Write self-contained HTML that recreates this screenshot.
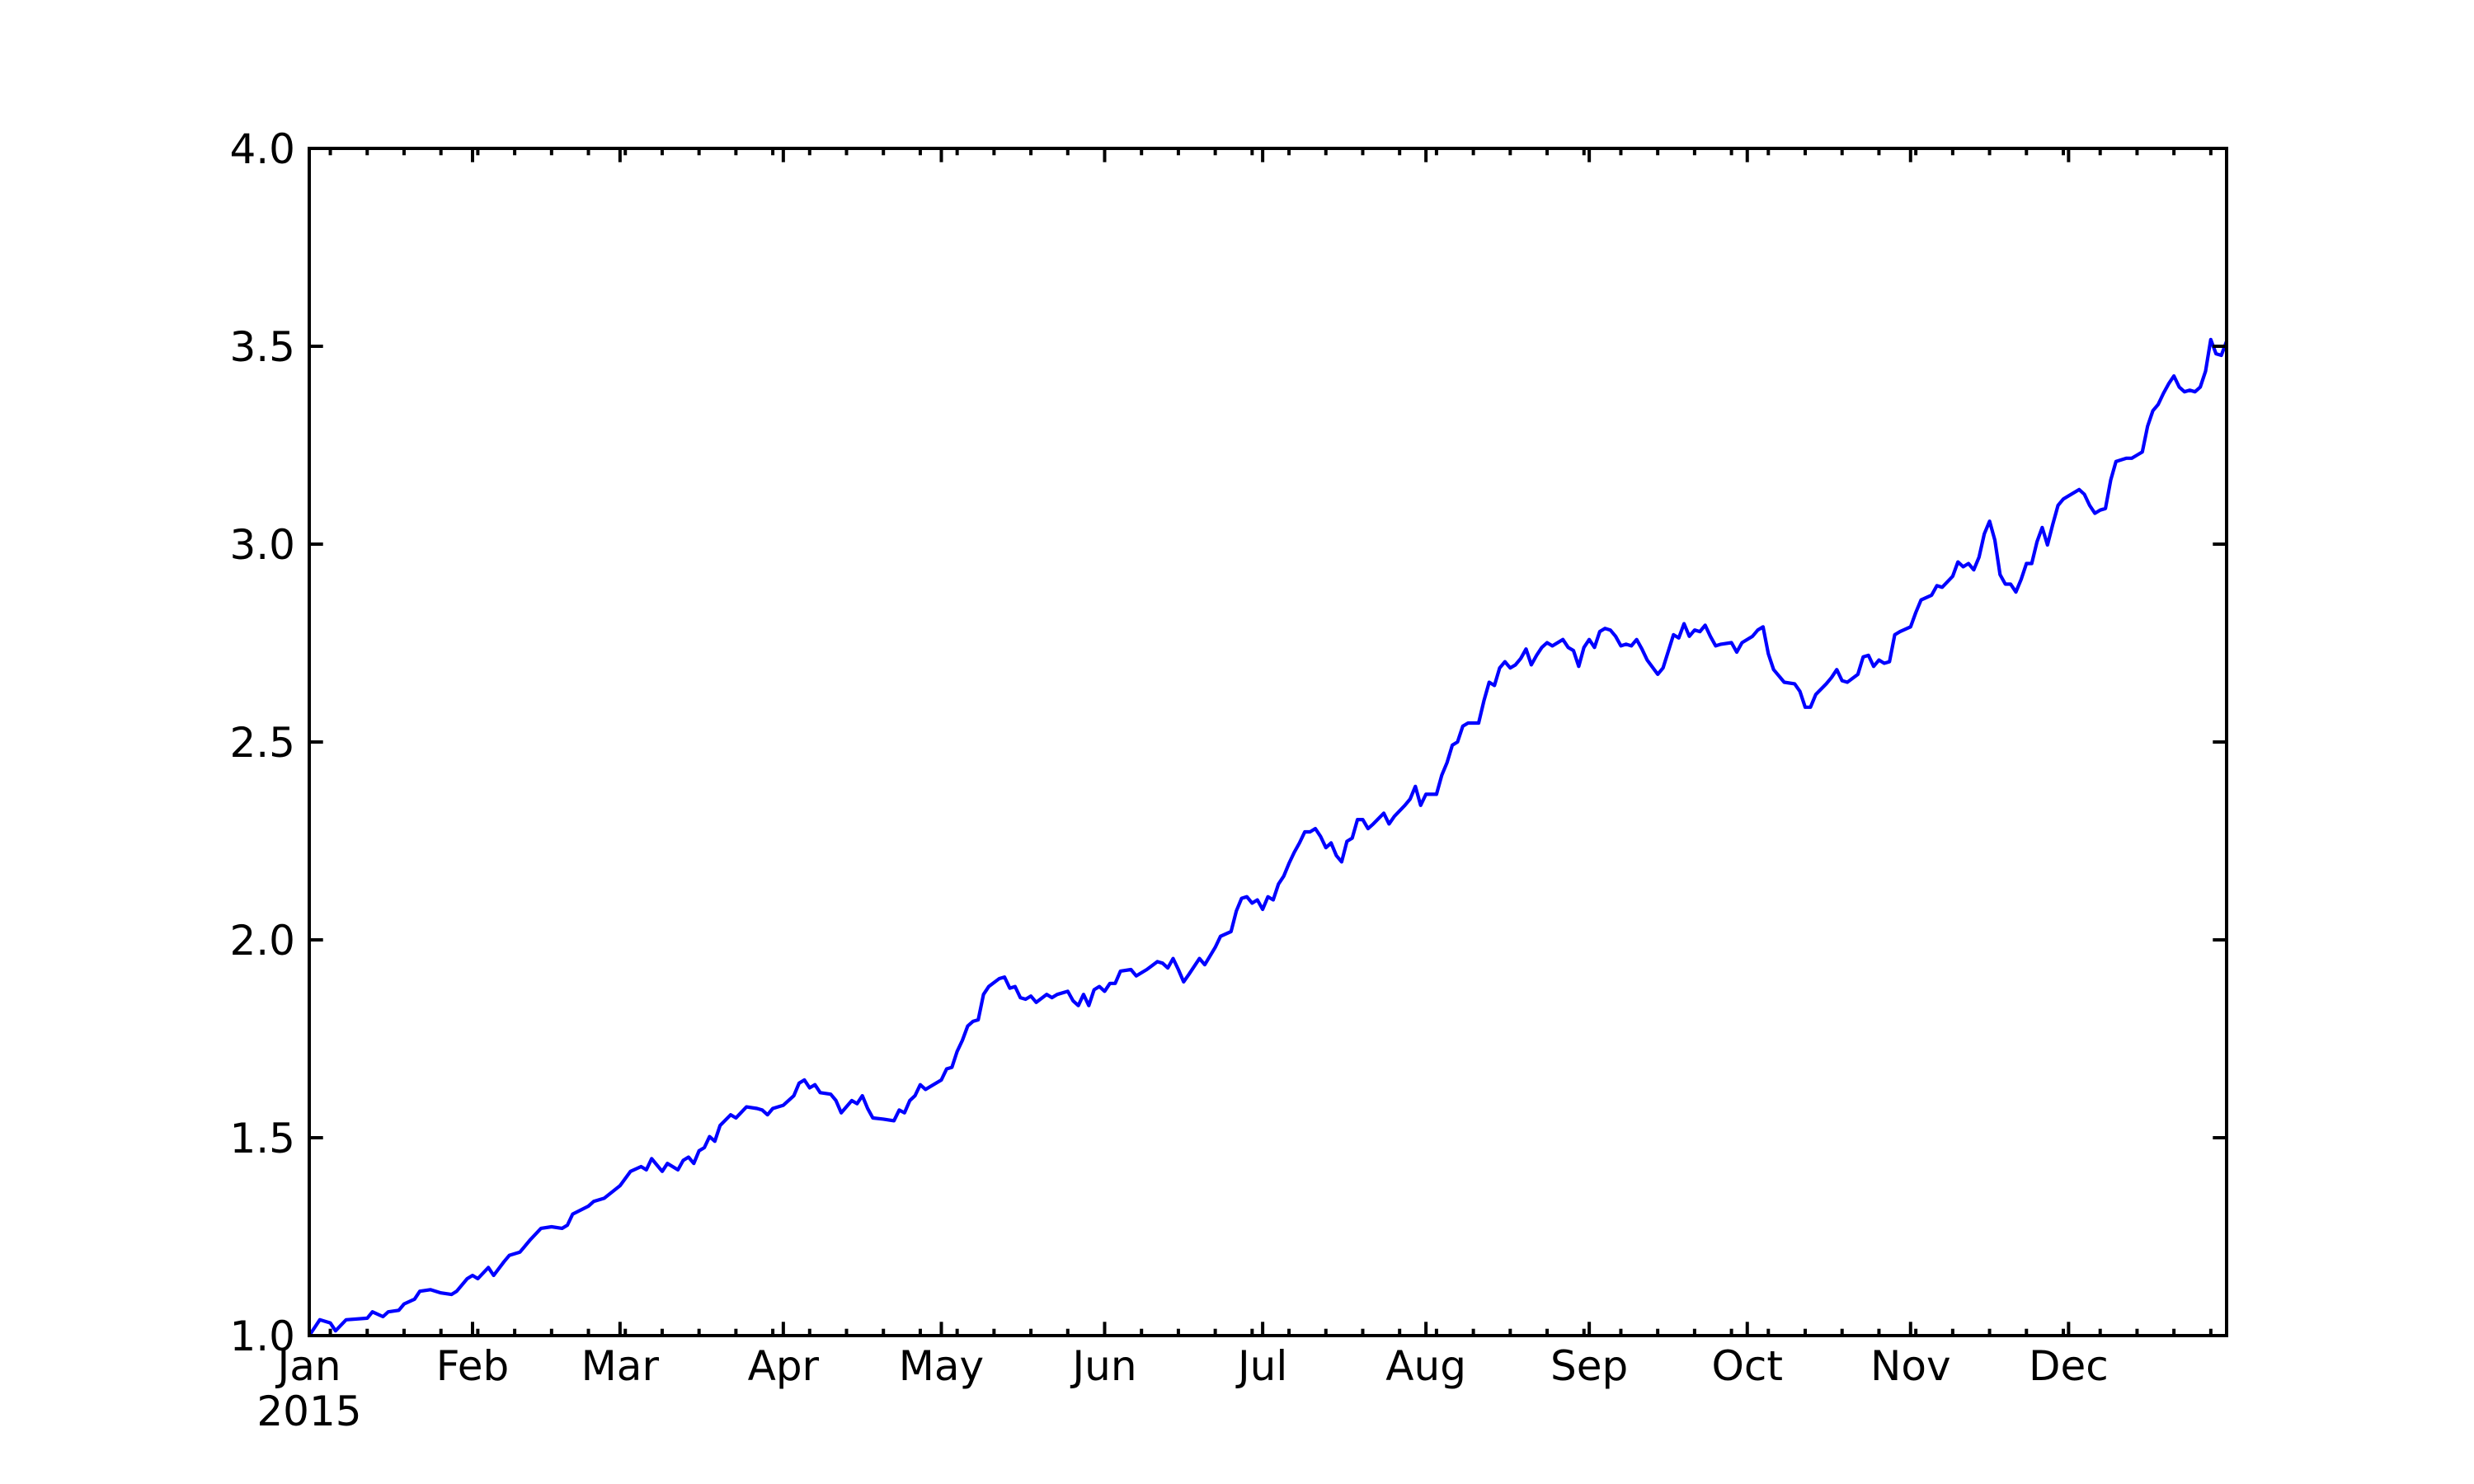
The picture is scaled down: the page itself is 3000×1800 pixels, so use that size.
<!DOCTYPE html>
<html><head><meta charset="utf-8"><style>
html,body{margin:0;padding:0;background:#fff;}
svg{display:block;}
text{font-family:"DejaVu Sans","Liberation Sans",sans-serif;font-size:50px;fill:#000;}
</style></head>
<body>
<svg id="chart" width="3000" height="1800" xmlns="http://www.w3.org/2000/svg"></svg>
<script>
const days = [0,2,4,5,7,11,12,14,15,17,18,20,21,23,25,27,28,30,31,32,34,35,37,38,40,42,44,46,48,49,50,53,54,56,59,61,63,64,65,66,67,68,70,71,72,73,74,75,76,77,78,80,81,83,85,86,87,88,90,92,93,94,95,96,97,99,100,101,103,104,105,106,107,109,111,112,113,114,115,116,117,118,120,121,122,123,124,125,126,127,128,129,131,132,133,134,135,136,137,138,140,141,142,144,145,146,147,148,149,150,151,152,153,154,156,157,159,161,162,163,164,165,166,167,169,170,172,173,175,176,177,178,179,180,181,182,183,184,185,186,187,188,189,190,191,192,193,194,195,196,197,198,199,200,201,202,204,205,206,208,209,210,211,212,214,215,216,217,218,219,220,222,223,224,225,226,227,228,229,230,231,232,233,234,235,236,238,239,240,241,242,243,244,245,246,247,248,249,250,251,252,253,254,256,257,259,260,261,262,263,264,265,266,267,268,270,271,272,274,275,276,277,278,279,280,282,283,284,285,286,288,289,290,291,292,294,295,296,297,298,299,300,301,302,304,305,306,308,309,310,312,313,314,315,316,317,318,319,320,321,322,323,324,325,326,327,328,329,330,331,332,333,334,336,337,338,339,340,341,342,343,345,346,347,348,349,350,351,352,353,354,355,356,357,358,359,360,361,362,363,364];
const values = [1.000,1.040,1.032,1.012,1.040,1.044,1.060,1.048,1.060,1.064,1.080,1.092,1.112,1.116,1.108,1.104,1.112,1.144,1.152,1.144,1.172,1.152,1.187,1.203,1.211,1.243,1.271,1.275,1.271,1.279,1.307,1.327,1.339,1.347,1.379,1.415,1.427,1.419,1.447,1.431,1.415,1.435,1.419,1.443,1.451,1.435,1.467,1.475,1.503,1.491,1.531,1.558,1.550,1.578,1.574,1.570,1.558,1.574,1.582,1.606,1.638,1.646,1.626,1.634,1.614,1.610,1.594,1.563,1.594,1.586,1.606,1.574,1.550,1.547,1.543,1.570,1.563,1.594,1.606,1.634,1.622,1.630,1.646,1.674,1.678,1.718,1.746,1.782,1.794,1.798,1.862,1.882,1.902,1.906,1.878,1.882,1.854,1.850,1.858,1.842,1.862,1.854,1.862,1.870,1.846,1.834,1.862,1.834,1.874,1.882,1.870,1.890,1.890,1.921,1.925,1.909,1.925,1.945,1.941,1.929,1.953,1.925,1.894,1.913,1.953,1.937,1.981,2.009,2.021,2.073,2.105,2.109,2.093,2.101,2.077,2.109,2.101,2.141,2.161,2.193,2.221,2.245,2.273,2.273,2.281,2.261,2.233,2.245,2.213,2.197,2.249,2.257,2.304,2.304,2.281,2.293,2.320,2.293,2.312,2.340,2.356,2.388,2.340,2.368,2.368,2.416,2.448,2.492,2.500,2.540,2.548,2.548,2.604,2.651,2.643,2.687,2.703,2.687,2.695,2.711,2.735,2.695,2.719,2.739,2.751,2.743,2.759,2.739,2.731,2.691,2.739,2.759,2.739,2.779,2.787,2.783,2.767,2.743,2.747,2.743,2.759,2.735,2.707,2.671,2.687,2.771,2.763,2.799,2.767,2.783,2.779,2.795,2.767,2.743,2.747,2.751,2.727,2.751,2.767,2.783,2.791,2.723,2.683,2.667,2.651,2.647,2.628,2.588,2.588,2.620,2.647,2.663,2.683,2.655,2.651,2.671,2.715,2.719,2.691,2.707,2.699,2.703,2.771,2.779,2.791,2.827,2.859,2.871,2.895,2.891,2.919,2.955,2.943,2.951,2.935,2.967,3.026,3.058,3.010,2.923,2.899,2.899,2.879,2.911,2.951,2.951,3.006,3.042,2.998,3.050,3.098,3.114,3.122,3.138,3.126,3.098,3.078,3.086,3.090,3.162,3.209,3.217,3.217,3.225,3.233,3.298,3.337,3.353,3.381,3.405,3.425,3.397,3.385,3.389,3.385,3.397,3.437,3.517,3.481,3.477,3.513];
const monthLabels = ["Jan","Feb","Mar","Apr","May","Jun","Jul","Aug","Sep","Oct","Nov","Dec"];
const monthStarts = [0,31,59,90,120,151,181,212,243,273,304,334];
const yTicks = [1.0,1.5,2.0,2.5,3.0,3.5,4.0];
const yearLabel = "2015";

const L=375, T=180, W=2325, H=1440, R=L+W, B=T+H;
const xMin=0, xMax=364, yMin=1, yMax=4;
const NS="http://www.w3.org/2000/svg";
const svg=document.getElementById('chart');
function X(d){return L+(d-xMin)/(xMax-xMin)*W;}
function Y(v){return B-(v-yMin)/(yMax-yMin)*H;}
function mk(tag,attrs,parent){const e=document.createElementNS(NS,tag);for(const k in attrs)e.setAttribute(k,attrs[k]);(parent||svg).appendChild(e);return e;}

const pts=days.map((d,i)=>X(d).toFixed(1)+","+Y(values[i]).toFixed(1)).join(" ");
const line=mk('polyline',{points:pts,fill:'none',stroke:'#0000ff','stroke-width':4.2,'stroke-linejoin':'round'});



const g=mk('g',{stroke:'#000','stroke-width':4});


for(let d=4; d<=xMax; d+=7){
  mk('line',{x1:X(d),x2:X(d),y1:B,y2:B-8.3},g);
  mk('line',{x1:X(d),x2:X(d),y1:T,y2:T+8.3},g);
}
monthStarts.forEach((d,i)=>{
  mk('line',{x1:X(d),x2:X(d),y1:B,y2:B-16.7},g);
  mk('line',{x1:X(d),x2:X(d),y1:T,y2:T+16.7},g);
  const t=mk('text',{x:X(d),y:B+54,'text-anchor':'middle'});
  t.textContent=monthLabels[i];
  
  
});
const yr=mk('text',{x:X(0),y:B+109,'text-anchor':'middle'});
yr.textContent=yearLabel;


yTicks.forEach(v=>{
  mk('line',{x1:L,x2:L+16.7,y1:Y(v),y2:Y(v)},g);
  mk('line',{x1:R,x2:R-16.7,y1:Y(v),y2:Y(v)},g);
  const t=mk('text',{x:L-17,y:Y(v)+18,'text-anchor':'end'});
  t.textContent=v.toFixed(1);
  
  
});
const frame=mk('rect',{x:L,y:T,width:W,height:H,fill:'none',stroke:'#000','stroke-width':4});


</script>
</body></html>
